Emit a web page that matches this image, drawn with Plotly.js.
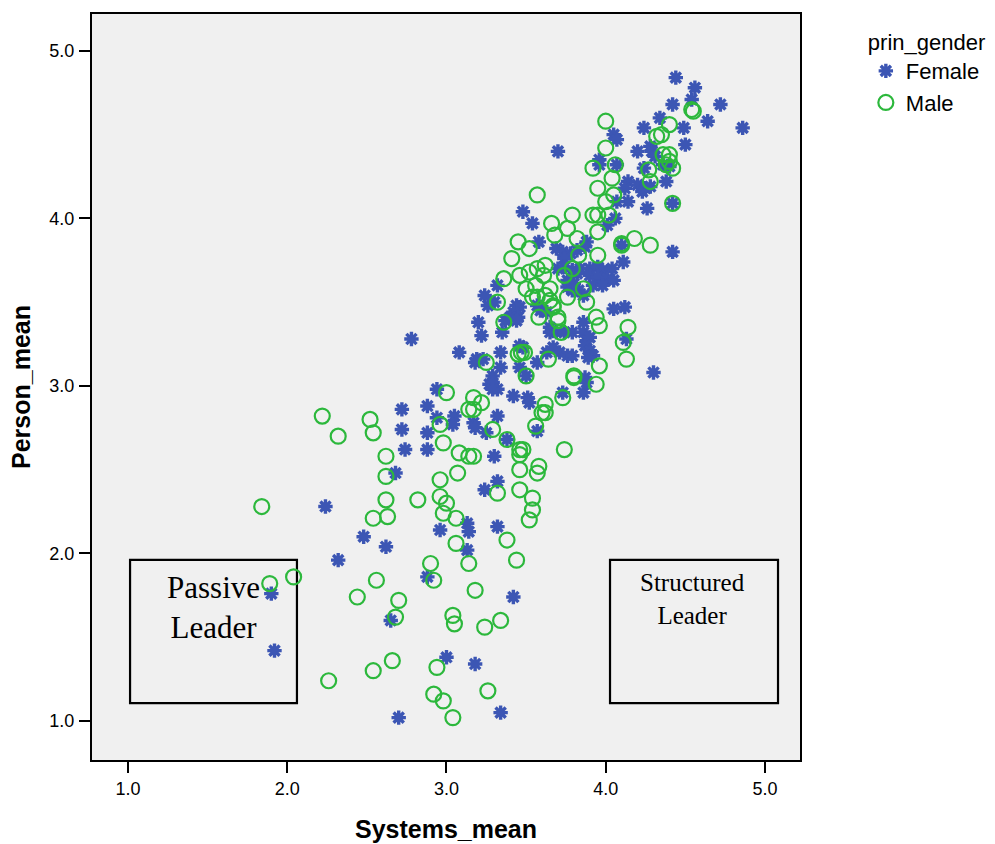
<!DOCTYPE html>
<html>
<head>
<meta charset="utf-8">
<script src="https://cdn.plot.ly/plotly-3.0.1.min.js"></script>
<style>
html, body { margin: 0; padding: 0; background: #ffffff; }
#chart { width: 995px; height: 844px; }
</style>
</head>
<body>
<div id="chart"></div>
<script>
// ---- data ----
var seriesNames = ['Female', 'Male'];
var legendTitle = 'prin_gender';
var xTitle = 'Systems_mean';
var yTitle = 'Person_mean';
var tickVals = [1, 2, 3, 4, 5];
var tickLabels = ['1.0', '2.0', '3.0', '4.0', '5.0'];
var boxLabels = ['Passive<br>Leader', 'Structured<br>Leader'];

var femaleX = [
 2.24,2.32,2.48,2.62,1.90,1.92,2.65,2.70,3.00,3.18,3.34,3.42,2.88,2.96,3.13,3.14,3.13,3.32,2.68,2.74,
 2.72,2.72,2.88,2.88,2.88,2.94,2.94,3.05,3.04,3.17,3.18,3.25,3.32,3.27,3.32,3.42,3.51,3.52,3.57,3.73,
 3.86,3.38,3.30,3.24,3.32,2.78,3.08,4.30,4.42,3.54,3.58,3.69,3.73,3.78,3.74,3.82,3.88,3.87,3.70,3.74,
 3.79,3.84,3.82,3.90,3.95,3.98,4.04,3.90,3.95,4.01,4.05,3.92,3.98,3.76,3.76,3.79,3.83,3.86,3.80,4.10,
 4.11,4.12,4.05,3.24,3.26,3.30,3.32,3.44,3.46,3.42,3.45,3.40,3.37,3.44,3.57,3.59,3.63,3.35,3.22,3.65,
 3.65,3.69,3.74,3.79,3.86,3.86,3.88,3.90,3.87,3.90,3.92,3.89,3.19,3.18,3.23,3.34,3.34,3.46,3.48,3.57,
 3.63,3.67,3.71,3.76,3.79,3.46,3.29,3.29,3.29,3.50,3.87,3.88,4.44,4.56,4.72,4.86,4.42,4.54,4.34,4.24,
 4.49,4.64,4.05,4.07,4.20,4.28,4.29,4.31,4.50,3.70,3.96,4.07,4.24,4.36,4.40,4.14,4.12,4.20,4.23,4.25,
 4.28,4.38,4.14,4.26,4.42,4.07,4.06,4.01,3.96,3.48,3.20,4.13
];
var femaleY = [
 2.28,1.96,2.10,2.04,1.76,1.42,1.60,1.02,1.38,1.34,1.05,1.74,1.86,2.14,2.18,2.13,2.02,2.16,2.48,2.62,
 2.86,2.74,2.88,2.72,2.62,2.98,2.81,2.82,2.77,2.78,2.75,2.72,2.82,3.01,2.98,2.94,2.93,2.90,2.73,2.96,
 2.96,2.68,2.58,2.38,2.43,3.28,3.20,3.08,3.80,3.97,3.86,3.82,3.80,3.79,3.76,3.81,3.86,3.83,3.70,3.71,
 3.69,3.70,3.67,3.70,3.71,3.69,3.70,3.66,3.65,3.64,3.63,3.60,3.60,3.63,3.59,3.57,3.57,3.54,3.61,3.84,
 3.74,3.47,3.46,3.54,3.48,3.50,3.60,3.48,3.47,3.44,3.41,3.41,3.39,3.39,3.48,3.45,3.44,3.32,3.30,3.35,
 3.32,3.32,3.32,3.32,3.38,3.32,3.27,3.29,3.24,3.21,3.18,3.17,3.16,3.14,3.16,3.20,3.11,3.24,3.23,3.14,
 3.20,3.23,3.20,3.18,3.18,3.11,3.06,3.02,2.98,3.06,3.05,3.02,4.84,4.78,4.68,4.54,4.68,4.71,4.60,4.54,
 4.54,4.58,4.50,4.47,4.40,4.43,4.40,4.37,4.44,4.40,4.35,4.32,4.30,4.32,4.31,4.22,4.18,4.20,4.16,4.18,
 4.19,4.22,4.10,4.06,4.09,4.10,4.00,3.96,4.32,4.04,3.38,3.28
];

var maleX = [
 1.84,1.89,2.04,2.22,2.32,2.26,2.44,2.52,2.54,2.54,2.56,2.54,2.62,2.62,2.62,2.63,2.66,2.68,2.70,2.82,
 2.90,2.92,2.94,2.92,2.98,2.96,2.96,3.00,2.98,3.00,2.96,2.98,3.06,3.06,3.04,3.05,3.04,3.08,3.14,3.17,
 3.07,3.14,3.18,3.17,3.22,3.14,3.17,3.26,3.24,3.34,3.32,3.29,3.38,3.38,3.44,3.46,3.46,3.46,3.48,3.46,
 3.54,3.54,3.52,3.58,3.57,3.74,3.62,3.62,3.60,3.56,3.73,3.80,3.94,3.96,4.13,4.14,4.11,3.25,3.47,3.45,
 3.49,3.50,3.64,3.80,3.94,3.96,3.72,3.70,3.70,3.58,3.36,3.32,3.67,3.67,3.65,3.62,3.57,3.54,3.50,3.56,
 3.61,3.65,3.76,3.86,3.88,3.36,3.46,3.52,3.57,3.62,3.74,3.79,3.41,3.45,3.52,3.83,3.95,4.10,4.10,4.18,
 4.28,3.66,3.76,3.82,3.95,3.68,3.57,3.79,3.92,3.95,4.02,4.00,4.05,3.95,4.04,4.06,3.92,4.00,4.00,4.40,
 4.32,4.35,4.55,4.54,4.36,4.40,4.40,4.38,4.42,4.27,4.28,4.42
];
var maleY = [
 2.28,1.82,1.86,2.82,2.70,1.24,1.74,2.80,2.72,2.21,1.84,1.30,2.58,2.46,2.32,2.22,1.36,1.62,1.72,2.32,
 1.94,1.84,1.32,1.16,1.12,2.44,2.34,2.30,2.24,2.96,2.77,2.66,2.21,2.06,1.63,1.58,1.02,2.60,2.58,2.58,
 2.48,1.94,1.78,2.93,2.90,2.86,2.86,1.18,1.56,1.60,2.36,2.74,2.68,2.08,1.96,2.38,2.50,2.62,2.62,2.59,
 2.33,2.26,2.20,2.52,2.48,2.62,2.89,2.84,2.84,2.76,2.93,3.05,3.01,3.12,3.16,3.35,3.26,3.14,3.20,3.19,
 3.20,3.06,3.16,3.06,3.41,3.36,3.32,3.41,3.39,3.41,3.38,3.50,3.47,3.48,3.51,3.54,3.53,3.53,3.58,3.60,
 3.66,3.58,3.53,3.58,3.50,3.64,3.66,3.68,3.70,3.72,3.66,3.70,3.76,3.86,3.82,3.78,3.78,3.85,3.84,3.88,
 3.84,3.97,3.94,3.88,3.92,3.90,4.14,4.02,4.02,4.02,4.02,4.10,4.14,4.18,4.24,4.32,4.30,4.42,4.58,4.56,
 4.49,4.50,4.64,4.65,4.38,4.38,4.34,4.32,4.30,4.29,4.22,4.09
];

var femaleColor = '#3c56b4';
var maleColor = '#2cb83c';
var sansFont = 'Liberation Sans, Arial, Helvetica, sans-serif';
var serifFont = 'Liberation Serif, Times New Roman, serif';

var traces = [
  {
    type: 'scatter', mode: 'markers', name: seriesNames[0],
    x: femaleX, y: femaleY,
    marker: { symbol: 'asterisk-open', size: 12, color: femaleColor,
              line: { color: femaleColor, width: 3.4 } },
    hoverinfo: 'skip'
  },
  {
    type: 'scatter', mode: 'markers', name: seriesNames[1],
    x: maleX, y: maleY,
    marker: { symbol: 'circle-open', size: 15, color: maleColor,
              line: { color: maleColor, width: 2.2 } },
    hoverinfo: 'skip'
  }
];

var layout = {
  width: 995, height: 844,
  margin: { l: 92, r: 195, t: 14, b: 84, pad: 0, autoexpand: false },
  paper_bgcolor: '#ffffff',
  plot_bgcolor: '#f0f0f0',
  font: { family: sansFont, color: '#000000', size: 18 },
  showlegend: true,
  hovermode: false,
  xaxis: {
    range: [0.774, 5.22], autorange: false,
    tickvals: tickVals, ticktext: tickLabels,
    ticks: 'outside', ticklen: 11, tickwidth: 2, tickcolor: '#000000',
    ticklabelstandoff: 0,
    showline: true, linecolor: '#000000', linewidth: 2, mirror: true,
    showgrid: false, zeroline: false,
    tickfont: { family: sansFont, size: 18, color: '#000000' },
    title: { text: xTitle, font: { family: sansFont, size: 25, color: '#000000', weight: 'bold' }, standoff: 23 }
  },
  yaxis: {
    range: [0.767, 5.22], autorange: false,
    tickvals: tickVals, ticktext: tickLabels,
    ticks: 'outside', ticklen: 11, tickwidth: 2, tickcolor: '#000000',
    ticklabelstandoff: 1,
    showline: true, linecolor: '#000000', linewidth: 2, mirror: true,
    showgrid: false, zeroline: false,
    tickfont: { family: sansFont, size: 18, color: '#000000' },
    title: { text: yTitle, font: { family: sansFont, size: 25, color: '#000000', weight: 'bold' }, standoff: 12 }
  },
  legend: {
    x: 1.093, xanchor: 'left', y: 0.99, yanchor: 'top',
    bgcolor: 'rgba(0,0,0,0)', borderwidth: 0,
    title: { text: legendTitle, font: { family: sansFont, size: 22, color: '#000000' } },
    font: { family: sansFont, size: 22, color: '#000000' },
    itemsizing: 'trace'
  },
  shapes: [
    { type: 'rect', xref: 'x', yref: 'y', x0: 1.013, x1: 2.061, y0: 1.107, y1: 1.961,
      line: { color: '#000000', width: 2.2 }, fillcolor: 'rgba(0,0,0,0)', layer: 'below' },
    { type: 'rect', xref: 'x', yref: 'y', x0: 4.027, x1: 5.082, y0: 1.107, y1: 1.961,
      line: { color: '#000000', width: 2.2 }, fillcolor: 'rgba(0,0,0,0)', layer: 'below' }
  ],
  annotations: [
    { xref: 'x', yref: 'y', x: 1.536, y: 1.675, text: boxLabels[0], showarrow: false,
      align: 'center', font: { family: serifFont, size: 31, color: '#000000' } },
    { xref: 'x', yref: 'y', x: 4.548, y: 1.728, text: boxLabels[1], showarrow: false,
      align: 'center', font: { family: serifFont, size: 25, color: '#000000' } }
  ]
};

Plotly.newPlot('chart', traces, layout, { displayModeBar: false, staticPlot: true });
</script>
</body>
</html>
